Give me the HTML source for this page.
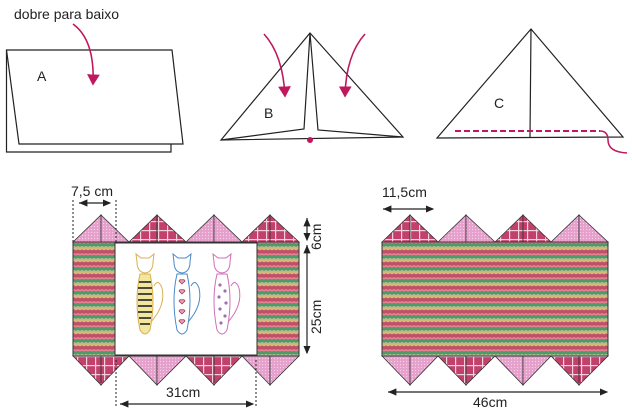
<!DOCTYPE html>
<html><head><meta charset="utf-8"><style>
html,body{margin:0;padding:0;background:#fff;}
svg{display:block;}
text{font-family:"Liberation Sans",sans-serif;fill:#222;}
</style></head><body>
<svg width="632" height="411" viewBox="0 0 632 411" xmlns="http://www.w3.org/2000/svg">
<defs>
<pattern id="wave" width="8" height="12" patternUnits="userSpaceOnUse">
<rect width="8" height="12" fill="#c05068"/>
<path d="M0 2 Q2 0 4 2 Q6 0 8 2 L8 4 Q6 2 4 4 Q2 2 0 4Z" fill="#e08090"/>
<path d="M0 4 Q2 2 4 4 Q6 2 8 4 L8 7 Q6 5 4 7 Q2 5 0 7Z" fill="#4e9a6a"/>
<path d="M0 7 Q2 5 4 7 Q6 5 8 7 L8 8.5 Q6 6.5 4 8.5 Q2 6.5 0 8.5Z" fill="#a8c890"/>
<path d="M0 8.5 Q2 6.5 4 8.5 Q6 6.5 8 8.5 L8 10.5 Q6 8.5 4 10.5 Q2 8.5 0 10.5Z" fill="#d8bc7c"/>
</pattern>
<pattern id="plaid" width="9" height="9" patternUnits="userSpaceOnUse">
<rect width="9" height="9" fill="#c2406c"/>
<rect x="5" width="1.2" height="9" fill="#f4d0de"/>
<rect y="5" width="9" height="1.2" fill="#f4d0de"/>
</pattern>
<pattern id="dots" width="3" height="3" patternUnits="userSpaceOnUse">
<rect width="3" height="3" fill="#e6a0cc"/>
<circle cx="1.5" cy="1.5" r="0.6" fill="#f6d6ea"/>
</pattern>
<marker id="ah" markerWidth="8" markerHeight="8" refX="6" refY="4" orient="auto"><path d="M0 0L7 4L0 8Z" fill="#c0185e"/></marker>
<marker id="da" markerWidth="8" markerHeight="8" refX="6" refY="4" orient="auto"><path d="M0 1L7 4L0 7Z" fill="#222"/></marker>
<marker id="ds" markerWidth="8" markerHeight="8" refX="1" refY="4" orient="auto"><path d="M8 1L1 4L8 7Z" fill="#222"/></marker>
</defs>

<!-- Top: A -->
<text x="14" y="19" font-size="14">dobre para baixo</text>
<polyline points="6.5,50 6.5,152 171,152 171,144" fill="none" stroke="#222" stroke-width="1.2"/>
<polygon points="6.5,50 172,50 183,144 19,144" fill="#fff" stroke="#222" stroke-width="1.2"/>
<text x="37" y="81" font-size="14">A</text>
<path d="M73,24 Q95,40 93,84" fill="none" stroke="#c0185e" stroke-width="1.6" marker-end="url(#ah)"/>

<!-- B -->
<polygon points="310,33 221,140 403,137" fill="#fff" stroke="#222" stroke-width="1.2"/>
<polyline points="221,140 304,129 310,33 318,130 403,137" fill="none" stroke="#222" stroke-width="1.2"/>
<circle cx="310" cy="140" r="3" fill="#c0185e"/>
<text x="264" y="118" font-size="14">B</text>
<path d="M264,34 Q283,55 285,96" fill="none" stroke="#c0185e" stroke-width="1.6" marker-end="url(#ah)"/>
<path d="M365,34 Q346,55 345,96" fill="none" stroke="#c0185e" stroke-width="1.6" marker-end="url(#ah)"/>

<!-- C -->
<polygon points="531,29 437,138 623,137" fill="#fff" stroke="#222" stroke-width="1.2"/>
<line x1="531" y1="29" x2="530" y2="137" stroke="#222" stroke-width="1.2"/>
<line x1="455" y1="131" x2="600" y2="131" stroke="#c0185e" stroke-width="2" stroke-dasharray="6,3"/>
<path d="M600,131 Q608,131 608,140 Q608,152 627,153" fill="none" stroke="#c0185e" stroke-width="1.5"/>
<text x="494" y="108" font-size="14">C</text>

<!-- Left net -->
<g stroke="#333" stroke-width="0.8">
<!-- top triangles -->
<polygon points="73,242 101,215 101,242" fill="url(#dots)"/><polygon points="101,215 129,242 101,242" fill="url(#dots)"/>
<polygon points="129,242 157,215 157,242" fill="url(#plaid)"/><polygon points="157,215 186,242 157,242" fill="url(#plaid)"/>
<polygon points="186,242 214,215 214,242" fill="url(#dots)"/><polygon points="214,215 242,242 214,242" fill="url(#dots)"/>
<polygon points="242,242 270,215 270,242" fill="url(#plaid)"/><polygon points="270,215 299,242 270,242" fill="url(#plaid)"/>
<!-- bottom -->
<polygon points="73,356 101,385 101,356" fill="url(#plaid)"/><polygon points="101,385 129,356 101,356" fill="url(#plaid)"/>
<polygon points="129,356 157,385 157,356" fill="url(#dots)"/><polygon points="157,385 186,356 157,356" fill="url(#dots)"/>
<polygon points="186,356 214,385 214,356" fill="url(#plaid)"/><polygon points="214,385 242,356 214,356" fill="url(#plaid)"/>
<polygon points="242,356 270,385 270,356" fill="url(#dots)"/><polygon points="270,385 299,356 270,356" fill="url(#dots)"/>
<rect x="73" y="242" width="226" height="114" fill="url(#wave)" stroke="#333" stroke-width="1"/>
<rect x="115" y="243" width="142" height="112" fill="#fff" stroke="#333" stroke-width="1"/>
</g>

<!-- cats -->
<g fill="none" stroke-width="1">
<g stroke="#d8b050">
<path d="M137,262 L136,254 L141,258 L149,258 L154,254 L153,262 Q153,272 145,273 Q137,272 137,262Z"/>
<path d="M140,274 Q134,300 140,330 Q145,338 150,330 Q156,300 150,274Z" fill="#f3e7a0"/>
<path d="M151,322 Q166,305 162,288 Q158,278 154,286"/>
</g>
<g stroke="#222" stroke-width="1.6">
<line x1="139" y1="282" x2="151" y2="282"/><line x1="138" y1="288" x2="152" y2="288"/><line x1="138" y1="294" x2="152" y2="294"/><line x1="138" y1="300" x2="152" y2="300"/><line x1="138" y1="306" x2="152" y2="306"/><line x1="138" y1="312" x2="152" y2="312"/><line x1="139" y1="318" x2="151" y2="318"/><line x1="140" y1="324" x2="150" y2="324"/>
</g>
<g stroke="#4a8ac8">
<path d="M174,262 L173,254 L178,258 L186,258 L191,254 L190,262 Q190,272 182,273 Q174,272 174,262Z"/>
<path d="M177,274 Q171,300 177,330 Q182,338 187,330 Q193,300 187,274Z"/>
<path d="M188,322 Q203,305 199,288 Q195,278 191,286"/>
</g>
<g fill="#e8a0b0" stroke="#a03050" stroke-width="0.7">
<path d="M182,284 l-3,-3 a2,2 0 0 1 3,-1 a2,2 0 0 1 3,1z"/><path d="M182,294 l-3,-3 a2,2 0 0 1 3,-1 a2,2 0 0 1 3,1z"/><path d="M182,304 l-3,-3 a2,2 0 0 1 3,-1 a2,2 0 0 1 3,1z"/><path d="M182,314 l-3,-3 a2,2 0 0 1 3,-1 a2,2 0 0 1 3,1z"/><path d="M182,324 l-3,-3 a2,2 0 0 1 3,-1 a2,2 0 0 1 3,1z"/>
</g>
<g stroke="#d070b8">
<path d="M214,262 L213,254 L218,258 L226,258 L231,254 L230,262 Q230,272 222,273 Q214,272 214,262Z"/>
<path d="M217,274 Q211,300 217,330 Q222,338 227,330 Q233,300 227,274Z"/>
<path d="M228,322 Q243,305 239,288 Q235,278 231,286"/>
</g>
<g fill="#a070b0">
<circle cx="220" cy="285" r="1.6"/><circle cx="225" cy="291" r="1.6"/><circle cx="219" cy="297" r="1.6"/><circle cx="226" cy="303" r="1.6"/><circle cx="220" cy="309" r="1.6"/><circle cx="225" cy="316" r="1.6"/><circle cx="221" cy="323" r="1.6"/>
</g>
</g>

<!-- left dims -->
<text x="71" y="196" font-size="14">7,5 cm</text>
<line x1="79" y1="203" x2="110" y2="203" stroke="#222" stroke-width="1.2" marker-start="url(#ds)" marker-end="url(#da)"/>
<line x1="73" y1="200" x2="73" y2="242" stroke="#222" stroke-dasharray="2,2"/>
<line x1="116" y1="200" x2="116" y2="242" stroke="#222" stroke-dasharray="2,2"/>
<line x1="307" y1="218" x2="307" y2="240" stroke="#222" stroke-width="1.2" marker-start="url(#ds)" marker-end="url(#da)"/>
<line x1="307" y1="245" x2="307" y2="353" stroke="#222" stroke-width="1.2" marker-start="url(#ds)" marker-end="url(#da)"/>
<text transform="translate(321,250) rotate(-90)" font-size="14">6cm</text>
<text transform="translate(321,334) rotate(-90)" font-size="14">25cm</text>
<text x="166" y="397" font-size="14">31cm</text>
<line x1="120" y1="404" x2="253" y2="404" stroke="#222" stroke-width="1.2" marker-start="url(#ds)" marker-end="url(#da)"/>
<line x1="116" y1="360" x2="116" y2="408" stroke="#222" stroke-dasharray="2,2"/>
<line x1="256" y1="360" x2="256" y2="408" stroke="#222" stroke-dasharray="2,2"/>

<!-- Right net -->
<g stroke="#333" stroke-width="0.8">
<polygon points="382,242 410,215 410,242" fill="url(#plaid)"/><polygon points="410,215 438,242 410,242" fill="url(#plaid)"/>
<polygon points="438,242 466,215 466,242" fill="url(#dots)"/><polygon points="466,215 495,242 466,242" fill="url(#dots)"/>
<polygon points="495,242 523,215 523,242" fill="url(#plaid)"/><polygon points="523,215 551,242 523,242" fill="url(#plaid)"/>
<polygon points="551,242 579,215 579,242" fill="url(#dots)"/><polygon points="579,215 608,242 579,242" fill="url(#dots)"/>
<polygon points="382,356 410,385 410,356" fill="url(#dots)"/><polygon points="410,385 438,356 410,356" fill="url(#dots)"/>
<polygon points="438,356 466,385 466,356" fill="url(#plaid)"/><polygon points="466,385 495,356 466,356" fill="url(#plaid)"/>
<polygon points="495,356 523,385 523,356" fill="url(#dots)"/><polygon points="523,385 551,356 523,356" fill="url(#dots)"/>
<polygon points="551,356 579,385 579,356" fill="url(#plaid)"/><polygon points="579,385 608,356 579,356" fill="url(#plaid)"/>
<rect x="382" y="242" width="226" height="114" fill="url(#wave)" stroke="#333" stroke-width="1"/>
</g>
<text x="382" y="197" font-size="14">11,5cm</text>
<line x1="383" y1="209" x2="433" y2="209" stroke="#222" stroke-width="1.2" marker-start="url(#ds)" marker-end="url(#da)"/>
<line x1="388" y1="392" x2="607" y2="392" stroke="#222" stroke-width="1.2" marker-start="url(#ds)" marker-end="url(#da)"/>
<text x="473" y="407" font-size="14">46cm</text>
</svg>
</body></html>
